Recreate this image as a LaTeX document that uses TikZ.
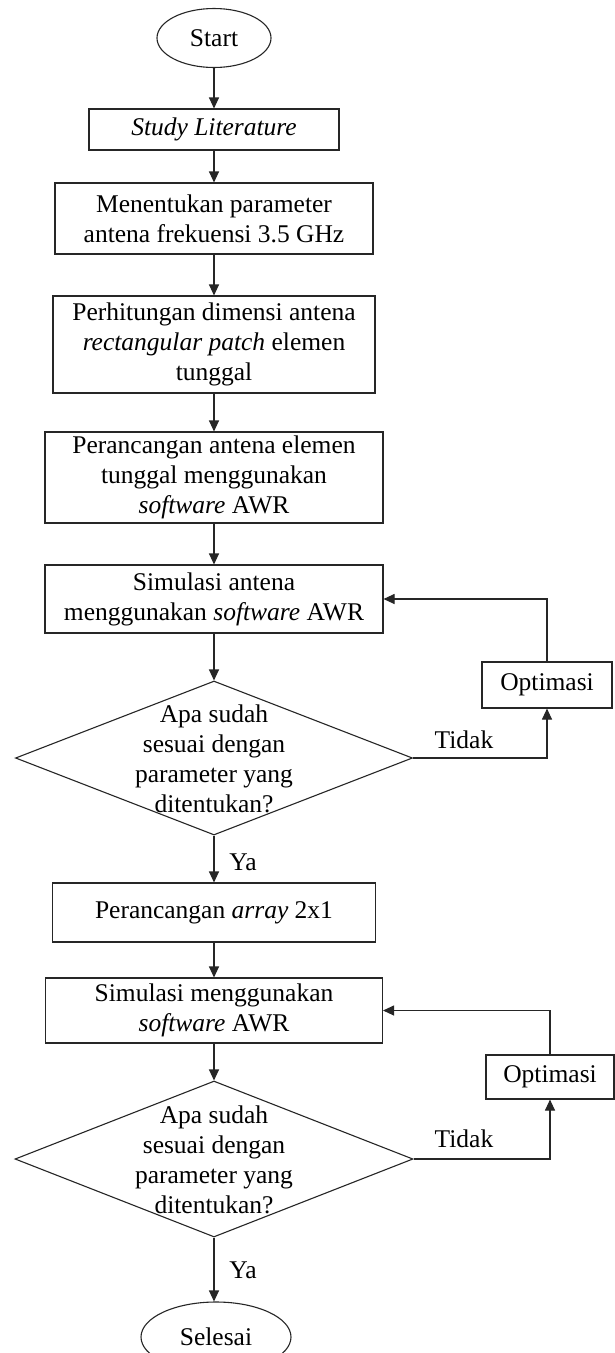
\documentclass[tikz,border=0pt]{standalone}
\usepackage{fontspec}
\setmainfont{Liberation Serif}
\usetikzlibrary{shapes.geometric,arrows.meta}
\begin{document}
\begin{tikzpicture}[x=1pt,y=-1pt,
  every node/.style={font=\fontsize{25.5pt}{30pt}\selectfont, inner sep=0pt, text=black},
  box/.style={draw=black!85, line width=1.1pt, rectangle, align=center},
  term/.style={draw=black!85, line width=1.1pt, ellipse},
  dec/.style={draw=black!85, line width=1.1pt, diamond},
  lbl/.style={align=center},
  arr/.style={draw=black!85, line width=1.1pt, -{Triangle[length=11pt,width=10pt]}}]
\clip (0,0) rectangle (615,1353);
\fill[white] (0,0) rectangle (615,1353);
\node[term, minimum width=114pt, minimum height=59pt] (start) at (214,38) {Start};
\node[box, minimum width=250pt, minimum height=41pt] (study) at (214,129.5) {\textit{Study Literature}};
\node[box, minimum width=318pt, minimum height=71pt] (param) at (214,218.5) {Menentukan parameter\\antena frekuensi 3.5 GHz};
\node[box, minimum width=322pt, minimum height=97pt] (hitung) at (214,344.5) {Perhitungan dimensi antena\\\textit{rectangular patch} elemen\\tunggal};
\node[box, minimum width=338pt, minimum height=91pt] (rancang) at (214,477.5) {Perancangan antena elemen\\tunggal menggunakan\\\textit{software} AWR};
\node[box, minimum width=338pt, minimum height=68pt] (sim1) at (214,599) {Simulasi antena\\menggunakan \textit{software} AWR};
\node[dec, minimum width=397pt, minimum height=154pt] (d1) at (214,758) {};
\node[lbl] (d1t) at (214,759) {Apa sudah\\sesuai dengan\\parameter yang\\ditentukan?};
\node[box, minimum width=130pt, minimum height=46pt] (opt1) at (547,685) {Optimasi};
\node[lbl] (tidak1) at (464,740) {Tidak};
\node[lbl] (ya1) at (243,862) {Ya};
\node[box, minimum width=323pt, minimum height=59pt] (array) at (214,912.5) {Perancangan \textit{array} 2x1};
\node[box, minimum width=337pt, minimum height=65pt] (sim2) at (214,1010.5) {Simulasi menggunakan\\\textit{software} AWR};
\node[dec, minimum width=398pt, minimum height=156pt] (d2) at (214,1159) {};
\node[lbl] (d2t) at (214,1160) {Apa sudah\\sesuai dengan\\parameter yang\\ditentukan?};
\node[box, minimum width=128pt, minimum height=44pt] (opt2) at (550,1077) {Optimasi};
\node[lbl] (tidak2) at (464,1139) {Tidak};
\node[lbl] (ya2) at (243,1270) {Ya};
\node[term, minimum width=150pt, minimum height=70pt] (end) at (216,1337) {Selesai};
\draw[arr] (start) -- (study);
\draw[arr] (study) -- (param);
\draw[arr] (param) -- (hitung);
\draw[arr] (hitung) -- (rancang);
\draw[arr] (rancang) -- (sim1);
\draw[arr] (sim1) -- (d1);
\draw[arr] (d1.east) -| (opt1.south);
\draw[arr] (opt1.north) |- (sim1.east);
\draw[arr] (d1.south) -- (array.north);
\draw[arr] (array) -- (sim2);
\draw[arr] (sim2) -- (d2);
\draw[arr] (d2.east) -| (opt2.south);
\draw[arr] (opt2.north) |- (sim2.east);
\draw[arr] (d2.south) -- (end.north -| d2.south);
\end{tikzpicture}
\end{document}
